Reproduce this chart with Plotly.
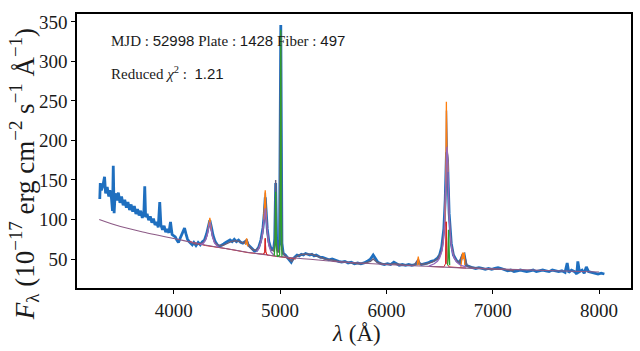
import plotly.graph_objects as go

# ---------------- observed spectrum (blue) ----------------
obs_wl = [3305, 3310, 3320, 3335, 3350, 3360, 3375, 3390, 3400, 3415, 3425, 3432, 3440, 3450, 3465,
          3480, 3495, 3510, 3525, 3540, 3555, 3570, 3585, 3600, 3615, 3630, 3645, 3660, 3675, 3690,
          3705, 3720, 3728, 3736, 3750, 3765, 3780, 3795, 3810, 3825, 3840, 3855, 3869, 3880, 3895,
          3910, 3925, 3940, 3955, 3970, 3985, 4000, 4015, 4030, 4045, 4060, 4075, 4090, 4102, 4115,
          4130, 4145, 4160, 4175, 4190, 4210, 4230, 4250, 4270, 4290, 4310, 4325, 4340, 4355, 4370,
          4390, 4410, 4430, 4450, 4470, 4490, 4510, 4530, 4550, 4570, 4590, 4610, 4630, 4650, 4670,
          4686, 4700, 4720, 4740, 4760, 4780, 4800, 4820, 4840, 4852, 4861, 4870, 4880, 4895, 4910,
          4925, 4940, 4950, 4959, 4968, 4980, 4995, 5007, 5018, 5030, 5050, 5070, 5090, 5105, 5120,
          5140, 5160, 5180, 5200, 5220, 5240, 5260, 5280, 5300, 5320, 5340, 5360, 5380, 5400, 5430,
          5460, 5490, 5520, 5550, 5580, 5610, 5640, 5670, 5700, 5730, 5760, 5790, 5820, 5850, 5876,
          5900, 5920, 5950, 5980, 6010, 6040, 6070, 6090, 6120, 6150, 6180, 6210, 6240, 6270, 6300,
          6330, 6360, 6390, 6420, 6450, 6480, 6500, 6520, 6540, 6553, 6565, 6575, 6590, 6610, 6630,
          6660, 6690, 6717, 6731, 6750, 6780, 6810, 6840, 6870, 6900, 6930, 6960, 6990, 7020, 7050,
          7080, 7110, 7140, 7170, 7200, 7230, 7260, 7290, 7320, 7350, 7380, 7410, 7440, 7470, 7500,
          7530, 7560, 7590, 7620, 7650, 7680, 7700, 7715, 7740, 7770, 7790, 7800, 7815, 7840, 7860,
          7880, 7900, 7930, 7960, 7990, 8020, 8050]
obs_flux = [126, 146, 137, 143, 154, 133, 141, 129, 137, 127, 111, 168, 108, 133, 124,
            134, 121, 129, 118, 125, 115, 122, 112, 119, 110, 117, 107, 113, 105, 111,
            102, 109, 142, 103, 107, 99, 104, 96, 101, 93, 97, 90, 122, 93, 87,
            92, 84, 88, 83, 97, 81, 80, 78, 74, 71, 76, 80, 86, 89, 82,
            75, 72, 70, 68, 71, 67, 71, 68, 72, 74, 82, 92, 99, 90, 80,
            72, 68, 66, 67, 69, 71, 73, 74, 72, 75, 72, 74, 71, 70, 72,
            73, 68, 65, 62, 60, 61, 65, 74, 90, 108, 128, 110, 88, 72, 65,
            62, 62, 75, 146, 74, 60, 70, 346, 70, 57, 55, 52, 48, 46, 50,
            53, 55, 54, 56, 55, 57, 56, 55, 56, 54, 55, 53, 52, 52, 50,
            49, 50, 48, 47, 46, 47, 45, 46, 44, 45, 44, 45, 47, 50, 55,
            50, 46, 44, 43, 44, 43, 46, 44, 42, 43, 42, 43, 42, 43, 45,
            43, 44, 45, 47, 48, 51, 55, 65, 88, 125, 185, 175, 108, 70, 55,
            48, 45, 55, 56, 42, 40, 39, 38, 39, 38, 37, 38, 37, 38, 39,
            38, 36, 35, 36, 34, 35, 36, 35, 34, 35, 36, 34, 35, 36, 35,
            34, 36, 35, 34, 35, 33, 45, 33, 36, 34, 31, 47, 34, 36, 32,
            40, 34, 33, 32, 31, 32, 31]

# ---------------- total model (grey) ----------------
model_wl = [4150, 4200, 4250, 4280, 4300, 4315, 4328, 4340, 4352, 4365, 4385, 4420, 4460, 4500, 4540,
            4580, 4620, 4660, 4686, 4710, 4740, 4770, 4800, 4820, 4835, 4845, 4855, 4862, 4870, 4880,
            4895, 4915, 4940, 4952, 4959, 4966, 4980, 4995, 5007, 5018, 5035, 5060, 5090, 5110, 5140,
            5180, 5220, 5260, 5300, 5340, 5380, 5420, 5470, 5520, 5570, 5620, 5680, 5740, 5800, 5850,
            5876, 5910, 5960, 6020, 6080, 6140, 6200, 6260, 6300, 6320, 6380, 6430, 6480, 6520, 6545,
            6560, 6565, 6572, 6582, 6590, 6610, 6640, 6680, 6717, 6731, 6760, 6820, 6900, 7000, 7100,
            7200]
model_flux = [72, 69, 69, 71, 75, 81, 91, 100, 89, 79, 71, 67, 67, 70, 72,
              73, 72, 70, 75, 66, 62, 61, 64, 72, 82, 95, 112, 134, 104, 83,
              69, 62, 60, 75, 150, 72, 58, 62, 338, 62, 56, 53, 49, 47, 52,
              55, 56, 56, 56, 54, 52, 50, 49, 48, 46, 46, 45, 44, 45, 47,
              50, 46, 44, 43, 44, 43, 42, 42, 50, 43, 44, 46, 50, 60, 90,
              155, 238, 190, 145, 105, 68, 51, 45, 56, 56, 41, 39, 38, 37, 37,
              35]

# ---------------- continuum (mauve) ----------------
cont_wl = [3300, 3500, 3750, 4000, 4250, 4500, 4750, 5000, 5250, 5500, 5750, 6000, 6250, 6500,
           6750, 7000, 7500, 8000]
cont_flux = [100, 91, 83, 76, 69, 63, 57.5, 53, 50, 47, 45, 43, 41.5, 40, 38.5, 37.5, 35.5, 33.5]

# ---------------- orange component ----------------
or_hg_wl = [4325, 4333, 4340, 4347, 4355]
or_hg_fx = [88, 95, 102, 94, 86]
or_he_wl = [4675, 4686, 4697]
or_he_fx = [68, 76, 66]
or_hb_wl = [4848, 4856, 4861, 4866, 4874]
or_hb_fx = [100, 116, 137, 112, 96]
or_oi_wl = [6290, 6300, 6310]
or_oi_fx = [42, 53, 42]
or_ha_wl = [6548, 6556, 6561, 6564, 6567, 6573, 6580]
or_ha_fx = [92, 125, 175, 249, 192, 188, 160]
or_s2_wl = [6700, 6712, 6717, 6722, 6727, 6731, 6738]
or_s2_fx = [40, 52, 58, 50, 56, 58, 42]

# ---------------- broad components (purple) ----------------
br_hg_wl = [4250, 4280, 4300, 4315, 4328, 4340, 4352, 4365, 4385, 4420]
br_hg_fx = [68, 70, 74, 80, 89, 97, 88, 78, 70, 65]
br_hb_wl = [4780, 4800, 4820, 4835, 4845, 4855, 4862, 4870, 4880, 4895, 4915, 4940]
br_hb_fx = [59, 63, 71, 81, 94, 109, 114, 100, 82, 67, 59, 55]
br_ha_wl = [6400, 6450, 6480, 6500, 6520, 6535, 6545, 6553, 6560, 6566, 6570, 6575, 6582, 6590,
            6600, 6615, 6635, 6660, 6700, 6750]
br_ha_fx = [41, 44, 47, 51, 59, 71, 89, 114, 150, 185, 192, 180, 140, 105, 80, 62, 52, 46, 42, 40]

# ---------------- narrow Balmer (red) ----------------
nr_hb_wl = [4150, 4300, 4500, 4700, 4845, 4856, 4861, 4866, 4878, 5000, 5150]
nr_hb_fx = [72, 67, 63, 58, 56, 59, 76, 59, 55, 53, 50]
nr_ha_wl = [6400, 6540, 6556, 6563, 6570, 6590, 6750]
nr_ha_fx = [40.5, 40, 44, 97, 44, 40, 38.5]

# ---------------- forbidden lines (green) ----------------
gr_o3_wl = [4945, 4954, 4959, 4964, 4975, 4996, 5003, 5007, 5011, 5018]
gr_o3_fx = [54, 70, 135, 70, 53, 55, 120, 340, 120, 53]
gr_n2_wl = [6575, 6580, 6584, 6588, 6595]
gr_n2_fx = [42, 50, 87, 50, 42]

x_ticks = [4000, 5000, 6000, 7000, 8000]
y_ticks = [50, 100, 150, 200, 250, 300, 350]


def join(*segs):
    xs, ys = [], []
    for sx, sy in segs:
        xs += list(sx) + [None]
        ys += list(sy) + [None]
    return xs, ys


fig = go.Figure()
fig.add_trace(go.Scatter(x=obs_wl, y=obs_flux, mode="lines",
                         line=dict(color="#1f6fbf", width=2.8)))
fig.add_trace(go.Scatter(x=model_wl, y=model_flux, mode="lines",
                         line=dict(color="#6b5f78", width=1.4)))
ox, oy = join((or_hg_wl, or_hg_fx), (or_he_wl, or_he_fx), (or_hb_wl, or_hb_fx),
              (or_oi_wl, or_oi_fx), (or_ha_wl, or_ha_fx), (or_s2_wl, or_s2_fx))
fig.add_trace(go.Scatter(x=ox, y=oy, mode="lines", connectgaps=False,
                         line=dict(color="#ff7f0e", width=1.3)))
rx, ry = join((nr_hb_wl, nr_hb_fx), (nr_ha_wl, nr_ha_fx))
fig.add_trace(go.Scatter(x=rx, y=ry, mode="lines", connectgaps=False,
                         line=dict(color="#d62728", width=1.0)))
fig.add_trace(go.Scatter(x=cont_wl, y=cont_flux, mode="lines", line_shape="spline",
                         line=dict(color="#8c5a86", width=1.1)))
bx, by = join((br_hg_wl, br_hg_fx), (br_hb_wl, br_hb_fx), (br_ha_wl, br_ha_fx))
fig.add_trace(go.Scatter(x=bx, y=by, mode="lines", connectgaps=False,
                         line=dict(color="#9467bd", width=1.3)))
fig.add_trace(go.Scatter(x=nr_hb_wl[4:9] + [None] + nr_ha_wl[2:5],
                         y=nr_hb_fx[4:9] + [None] + nr_ha_fx[2:5], mode="lines",
                         connectgaps=False, line=dict(color="#d62728", width=1.0)))
gx, gy = join((gr_o3_wl, gr_o3_fx), (gr_n2_wl, gr_n2_fx))
fig.add_trace(go.Scatter(x=gx, y=gy, mode="lines", connectgaps=False,
                         line=dict(color="#2ca02c", width=1.3)))

serif = "Liberation Serif"
sans = "Liberation Sans"

axis_common = dict(showgrid=False, zeroline=False, showline=True, linecolor="black",
                   linewidth=1.5, mirror=True, ticks="outside", ticklen=4, tickwidth=1,
                   tickcolor="black", tickfont=dict(family=serif, size=19, color="#1a1a1a"))

fig.update_layout(
    width=640, height=351,
    margin=dict(l=77, r=7, t=14, b=63),
    paper_bgcolor="white", plot_bgcolor="white",
    showlegend=False,
    font=dict(family=serif),
    xaxis=dict(range=[3091, 8300], tickvals=x_ticks, **axis_common),
    yaxis=dict(range=[13.3, 360], tickvals=y_ticks, **axis_common),
    annotations=[
        dict(text=("MJD : <span style='font-family:Liberation Sans'>52998</span> Plate : "
                   "<span style='font-family:Liberation Sans'>1428</span> Fiber : "
                   "<span style='font-family:Liberation Sans'>497</span>"),
             xref="paper", yref="paper", x=(109 - 77) / 556, y=(288 - 40) / 274,
             xanchor="left", yanchor="middle", showarrow=False,
             font=dict(family=serif, size=15, color="#1a1a1a")),
        dict(text=("Reduced <i>χ</i><sup>2</sup> :  "
                   "<span style='font-family:Liberation Sans'>1.21</span>"),
             xref="paper", yref="paper", x=(109 - 77) / 556, y=(288 - 73) / 274,
             xanchor="left", yanchor="middle", showarrow=False,
             font=dict(family=serif, size=15, color="#1a1a1a")),
        dict(text=("<i>F</i><sub>λ</sub> (10<sup>−17</sup> erg cm<sup>−2</sup> "
                   "s<sup>−1</sup> Å<sup>−1</sup>)"),
             xref="paper", yref="paper", x=(24 - 77) / 556, y=(288 - 174) / 274,
             xanchor="center", yanchor="middle", textangle=-90, showarrow=False,
             font=dict(family=serif, size=27, color="#1a1a1a")),
        dict(text="<i>λ</i> (Å)",
             xref="paper", yref="paper", x=(358 - 77) / 556, y=(288 - 333) / 274,
             xanchor="center", yanchor="middle", showarrow=False,
             font=dict(family=serif, size=23, color="#1a1a1a")),
    ],
)

fig.write_html("out.html")
